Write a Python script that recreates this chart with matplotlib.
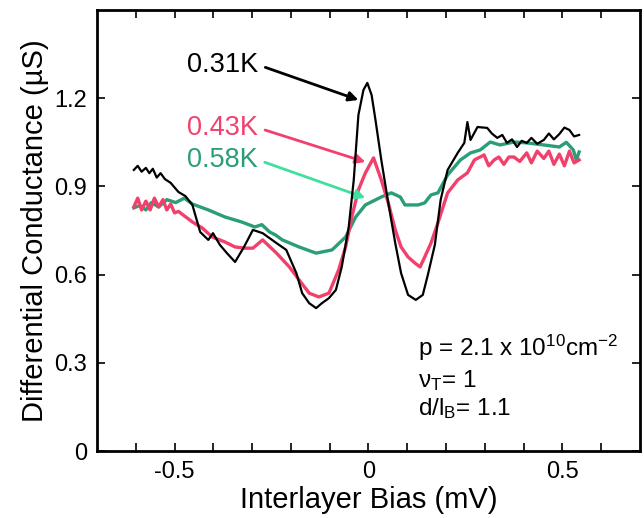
import matplotlib
matplotlib.use("Agg")
import matplotlib.pyplot as plt

plt.rcParams["font.family"] = ["Liberation Sans", "DejaVu Sans"]
plt.rcParams["mathtext.fontset"] = "custom"
plt.rcParams["mathtext.rm"] = "Liberation Sans"
plt.rcParams["mathtext.it"] = "Liberation Sans"

# 0.31 K trace (bias mV, conductance uS)
bias_031 = [-0.605, -0.595, -0.585, -0.574, -0.565, -0.556, -0.546, -0.536, -0.525, -0.510,
            -0.490, -0.472, -0.454, -0.434, -0.413,
            -0.401, -0.383, -0.365, -0.344, -0.321, -0.298, -0.273, -0.237, -0.212, -0.186,
            -0.171, -0.153, -0.135, -0.120, -0.102, -0.084, -0.069, -0.051, -0.038, -0.026,
            -0.013, -0.003, 0.008, 0.018, 0.033, 0.051, 0.069, 0.084, 0.102, 0.122,
            0.140, 0.153, 0.171, 0.186, 0.204, 0.230, 0.247, 0.255, 0.263, 0.281,
            0.306, 0.318, 0.332, 0.345, 0.357, 0.370, 0.383, 0.395, 0.408, 0.420,
            0.435, 0.452, 0.465, 0.478, 0.492, 0.505, 0.518, 0.530, 0.543]
g_031 = [0.956, 0.970, 0.950, 0.963, 0.945, 0.960, 0.930, 0.945, 0.925, 0.912,
         0.881, 0.867, 0.837, 0.745, 0.718,
         0.741, 0.701, 0.673, 0.643, 0.694, 0.752, 0.741, 0.707, 0.684, 0.605,
         0.537, 0.503, 0.486, 0.503, 0.520, 0.548, 0.626, 0.762, 0.922, 1.143,
         1.228, 1.252, 1.211, 1.126, 0.990, 0.844, 0.707, 0.605, 0.531, 0.514,
         0.531, 0.599, 0.701, 0.854, 0.956, 1.014, 1.048, 1.119, 1.058, 1.102,
         1.099, 1.080, 1.065, 1.075, 1.048, 1.060, 1.034, 1.055, 1.048, 1.065,
         1.045, 1.058, 1.080, 1.060, 1.078, 1.100, 1.092, 1.070, 1.075]

# 0.43 K trace
bias_043 = [-0.605, -0.595, -0.585, -0.574, -0.563, -0.552, -0.541, -0.530, -0.520, -0.510,
            -0.500, -0.490, -0.454, -0.429, -0.403, -0.370, -0.344,
            -0.319, -0.298, -0.273, -0.237, -0.204, -0.179, -0.153, -0.128, -0.102, -0.077,
            -0.059, -0.043, -0.026, -0.008, 0.013, 0.033, 0.051, 0.069, 0.084, 0.102,
            0.120, 0.133, 0.145, 0.161, 0.179, 0.204, 0.230, 0.255, 0.273, 0.298,
            0.310, 0.324, 0.336, 0.349, 0.362, 0.375, 0.390, 0.408, 0.420, 0.435,
            0.452, 0.465, 0.478, 0.492, 0.505, 0.518, 0.530, 0.543]
g_043 = [0.830, 0.860, 0.820, 0.850, 0.820, 0.860, 0.830, 0.855, 0.820, 0.840,
         0.810, 0.815, 0.779, 0.759, 0.728, 0.711, 0.694,
         0.690, 0.690, 0.718, 0.673, 0.626, 0.582, 0.537, 0.524, 0.537, 0.616,
         0.694, 0.796, 0.888, 0.946, 0.997, 0.922, 0.844, 0.752, 0.694, 0.660,
         0.639, 0.626, 0.660, 0.707, 0.776, 0.878, 0.922, 0.946, 0.990, 1.007,
         0.970, 0.990, 1.000, 0.975, 1.000, 1.000, 0.985, 1.014, 0.980, 1.020,
         0.995, 1.020, 0.975, 1.010, 0.970, 1.020, 0.980, 0.990]

# 0.58 K trace
bias_058 = [-0.605, -0.590, -0.574, -0.560, -0.541, -0.520, -0.497, -0.475, -0.454, -0.413,
            -0.370, -0.327, -0.293, -0.275, -0.255, -0.240,
            -0.222, -0.179, -0.135, -0.094, -0.059, -0.033, -0.008, 0.033, 0.059, 0.082,
            0.094, 0.128, 0.145, 0.161, 0.179, 0.204, 0.237, 0.263, 0.288, 0.314,
            0.339, 0.375, 0.408, 0.452, 0.492, 0.510, 0.528, 0.536, 0.543]
g_058 = [0.827, 0.835, 0.820, 0.845, 0.830, 0.855, 0.845, 0.860, 0.840, 0.820,
         0.796, 0.779, 0.762, 0.770, 0.745, 0.735,
         0.718, 0.694, 0.673, 0.684, 0.728, 0.796, 0.837, 0.864, 0.878, 0.864,
         0.837, 0.837, 0.844, 0.871, 0.878, 0.939, 0.990, 1.014, 1.024, 1.051,
         1.041, 1.051, 1.048, 1.041, 1.034, 1.050, 1.024, 0.990, 1.017]

BLACK = "black"
PINK = "#f2406c"
GREEN = "#2a9e76"
GREEN_ARROW = "#3ee0a0"

fig = plt.figure(figsize=(6.44, 5.18), dpi=100)
ax = fig.add_axes([0.1506, 0.1293, 0.8432, 0.8514])

ax.plot(bias_058, g_058, color=GREEN, lw=2.4, zorder=2)
ax.plot(bias_043, g_043, color=PINK, lw=2.4, zorder=3)
ax.plot(bias_031, g_031, color=BLACK, lw=1.6, zorder=4)

ax.set_xlim(-0.7, 0.7)
ax.set_ylim(0, 1.5)
ax.set_xticks([-0.5, 0, 0.5])
ax.set_xticklabels(["-0.5", "0", "0.5"])
ax.set_xticks([-0.6, -0.4, -0.3, -0.2, -0.1, 0.1, 0.2, 0.3, 0.4, 0.6], minor=True)
ax.set_yticks([0, 0.3, 0.6, 0.9, 1.2])
ax.set_yticklabels(["0", "0.3", "0.6", "0.9", "1.2"])
ax.tick_params(which="both", direction="in", top=True, right=True,
               length=6, width=1.2, labelsize=17, pad=7)
for s in ax.spines.values():
    s.set_linewidth(2.0)

ax.set_xlabel("Interlayer Bias (mV)", fontsize=21, labelpad=2)
ax.set_ylabel("Differential Conductance (\u00b5S)", fontsize=21, labelpad=4)

arrow = dict(arrowstyle="-|>", lw=2.0, mutation_scale=14, shrinkA=3, shrinkB=0)
ax.annotate("0.31K", xy=(-0.026, 1.194), xytext=(-0.467, 1.313), fontsize=19.5,
            color=BLACK, va="center", ha="left",
            arrowprops=dict(arrow, color=BLACK, relpos=(1.0, 0.5)))
ax.annotate("0.43K", xy=(-0.008, 0.983), xytext=(-0.467, 1.099), fontsize=19.5,
            color=PINK, va="center", ha="left",
            arrowprops=dict(arrow, color=PINK, relpos=(1.0, 0.5)))
ax.annotate("0.58K", xy=(-0.008, 0.861), xytext=(-0.467, 0.990), fontsize=19.5,
            color=GREEN, va="center", ha="left",
            arrowprops=dict(arrow, color=GREEN_ARROW, relpos=(1.0, 0.5)))

ax.text(0.128, 0.350, r"p = 2.1 x 10$^{10}$cm$^{-2}$", fontsize=17.5, va="center")
ax.text(0.128, 0.241, "\u03bd$_{\\mathrm{T}}$= 1", fontsize=17.5, va="center")
ax.text(0.128, 0.146, "d/l$_{\\mathrm{B}}$= 1.1", fontsize=17.5, va="center")

fig.savefig("out.png", dpi=100)
